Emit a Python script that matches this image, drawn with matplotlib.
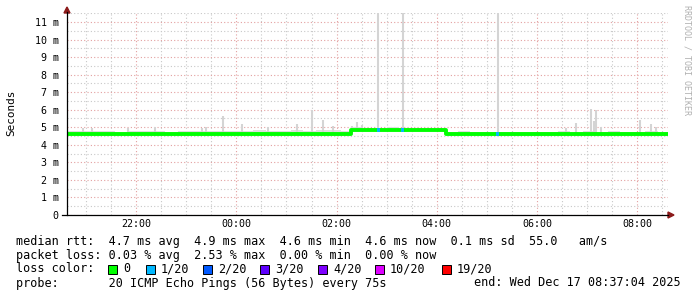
import numpy as np
import matplotlib
matplotlib.use("Agg")
import matplotlib.pyplot as plt
from matplotlib.ticker import MultipleLocator, FuncFormatter
from matplotlib.patches import Rectangle, Polygon

# ---- data (times as clock strings, values in ms) ----
t_start, t_end = "20:37:04", "08:37:04"

med_time = ["20:37", "20:50", "21:05", "21:20", "21:35", "21:50", "22:05", "22:20",
            "22:35", "22:50", "23:05", "23:20", "23:35", "23:50", "00:05", "00:20",
            "00:35", "00:50", "01:05", "01:20", "01:35", "01:50", "02:05", "02:17",
            "02:30", "02:45", "03:00", "03:15", "03:30", "03:45", "04:00", "04:11",
            "04:25", "04:40", "04:55", "05:10", "05:25", "05:40", "05:55", "06:10",
            "06:25", "06:40", "06:55", "07:10", "07:25", "07:40", "07:55", "08:10",
            "08:25", "08:37"]
med_val = [4.63, 4.64, 4.63, 4.63, 4.64, 4.63, 4.63, 4.64, 4.63, 4.62, 4.63, 4.63,
           4.64, 4.63, 4.62, 4.63, 4.64, 4.63, 4.62, 4.63, 4.64, 4.63, 4.62, 4.86,
           4.87, 4.86, 4.86, 4.87, 4.86, 4.87, 4.86, 4.62, 4.63, 4.62, 4.63, 4.62,
           4.62, 4.61, 4.62, 4.62, 4.63, 4.62, 4.62, 4.62, 4.61, 4.62, 4.62, 4.62,
           4.62, 4.62]
smoke_hi = [4.78, 4.80, 4.76, 4.78, 4.75, 4.77, 4.76, 4.79, 4.75, 4.78, 4.76, 4.77,
            4.80, 4.76, 4.78, 4.82, 4.77, 4.79, 4.84, 4.80, 4.86, 4.82, 4.78, 5.02,
            4.98, 4.96, 4.99, 4.97, 4.95, 4.98, 4.96, 4.74, 4.76, 4.73, 4.75, 4.74,
            4.73, 4.75, 4.74, 4.73, 4.76, 4.74, 4.78, 4.75, 4.76, 4.74, 4.73, 4.76,
            4.74, 4.74]

spike_time = ["20:56", "21:07", "21:50", "22:23", "23:19", "23:23", "23:44", "00:07",
              "00:38", "01:13", "01:31", "01:44", "01:56", "02:19", "02:25", "02:31",
              "02:50", "03:19", "05:13", "06:35", "06:47", "07:05", "07:08", "07:11",
              "07:17", "08:04", "08:17", "08:23"]
spike_top = [4.96, 4.95, 4.95, 5.00, 4.95, 5.00, 5.64, 5.20, 5.00, 5.20, 5.98, 5.40,
             5.10, 5.10, 5.30, 5.15, 11.6, 11.6, 11.6, 4.95, 5.23, 6.04, 5.35, 6.00,
             5.00, 5.40, 5.20, 5.00]

loss_time = ["02:50", "03:19", "05:13"]
loss_med = [4.87, 4.87, 4.62]

loss_labels = ["0", "1/20", "2/20", "3/20", "4/20", "10/20", "19/20"]
loss_colors = ["#00ff00", "#00b8ff", "#0059ff", "#5e00ff", "#7e00ff", "#dd00ff", "#ff0000"]

legend_lines = [
    "median rtt:  4.7 ms avg  4.9 ms max  4.6 ms min  4.6 ms now  0.1 ms sd  55.0   am/s",
    "packet loss: 0.03 % avg  2.53 % max  0.00 % min  0.00 % now",
    "loss color:",
    "probe:       20 ICMP Echo Pings (56 Bytes) every 75s",
]
end_text = "end: Wed Dec 17 08:37:04 2025"


def hours(s):
    p = [int(v) for v in s.split(":")]
    h = p[0] + p[1] / 60 + (p[2] / 3600 if len(p) > 2 else 0)
    return h + 24 if h < 12 else h


W, H = 697, 297
mono = "DejaVu Sans Mono"

fig = plt.figure(figsize=(W / 100, H / 100), dpi=100)
fig.patch.set_facecolor("white")

def fx(x):
    return x / W

def fy(y):
    return 1 - y / H

left, right, top, bottom = 67, 668, 13.2, 215
ax = fig.add_axes([fx(left), fy(bottom), (right - left) / W, (bottom - top) / H])
ax.set_facecolor("white")

x0, x1 = hours(t_start), hours(t_end)
ax.set_xlim(x0, x1)
ax.set_ylim(0, 11.5)

ax.xaxis.set_major_locator(MultipleLocator(2))
ax.xaxis.set_minor_locator(MultipleLocator(0.5))
ax.yaxis.set_major_locator(MultipleLocator(1))
ax.yaxis.set_minor_locator(MultipleLocator(0.5))
ax.grid(which="minor", color="#c8c8c8", linestyle=(0, (1, 2)), linewidth=0.8)
ax.grid(which="major", color="#e3a0a0", linestyle=(0, (1, 2)), linewidth=0.8)
ax.set_axisbelow(True)

ax.xaxis.set_major_formatter(FuncFormatter(lambda v, p: f"{int(round(v)) % 24:02d}:00"))
ax.yaxis.set_major_formatter(FuncFormatter(lambda v, p: "0" if v == 0 else f"{int(round(v))} m"))
ax.tick_params(which="both", length=0, labelsize=7.2, colors="#000000")
ax.tick_params(axis="y", pad=6)
ax.tick_params(axis="x", pad=3)
for lab in ax.get_xticklabels() + ax.get_yticklabels():
    lab.set_family(mono)
for s in ax.spines.values():
    s.set_visible(False)

# smoke
mt = np.array([hours(s) for s in med_time])
mv = np.array(med_val)
sh = np.array(smoke_hi)
ax.fill_between(mt, mv - 0.06, sh, step="post", color="#dedede", lw=0, zorder=2)
st = np.array([hours(s) for s in spike_time])
spk_base = np.interp(st, mt, mv)
ax.vlines(st, spk_base, spike_top, color="#d4d4d4", lw=1.5, zorder=2)

# median line
ax.step(mt, mv, where="post", color="#00ff00", lw=2.8, zorder=4)
lt = np.array([hours(s) for s in loss_time])
ax.hlines(loss_med, lt - 0.025, lt + 0.025, color=loss_colors[1], lw=2.8, zorder=5)

# axes lines and arrows
fig.add_artist(plt.Line2D([fx(left), fx(left)], [fy(215), fy(12)], color="black", lw=0.9))
fig.add_artist(plt.Line2D([fx(62), fx(668)], [fy(215), fy(215)], color="black", lw=0.9))
fig.add_artist(Polygon([(fx(64), fy(13)), (fx(70), fy(13)), (fx(67), fy(7))],
                       closed=True, color="#8b1a1a", transform=fig.transFigure))
fig.add_artist(Polygon([(fx(668), fy(212)), (fx(668), fy(218)), (fx(674), fy(215))],
                       closed=True, color="#8b1a1a", transform=fig.transFigure))

# labels
fig.text(fx(11), fy(113), "Seconds", rotation=90, family=mono, fontsize=7.9,
         ha="center", va="center")
fig.text(fx(687), fy(60), "RRDTOOL / TOBI OETIKER", rotation=270, family=mono,
         fontsize=6, color="#b0b0b0", ha="center", va="center")

line_y = [241, 255, 269, 283]
for txt, y in zip(legend_lines, line_y):
    fig.text(fx(16), fy(y), txt, family=mono, fontsize=8.5, ha="left", va="center")
fig.text(fx(681), fy(283), end_text, family=mono, fontsize=8.5, ha="right", va="center")

box_x = [108, 146, 203, 260, 318, 375, 442]
for bx, lab, col in zip(box_x, loss_labels, loss_colors):
    fig.add_artist(Rectangle((fx(bx), fy(273.5)), 9 / W, 9 / H, facecolor=col,
                             edgecolor="black", lw=0.7, transform=fig.transFigure))
    fig.text(fx(bx + 15), fy(269), lab, family=mono, fontsize=8.5, ha="left", va="center")

fig.savefig("out.png", dpi=100)
